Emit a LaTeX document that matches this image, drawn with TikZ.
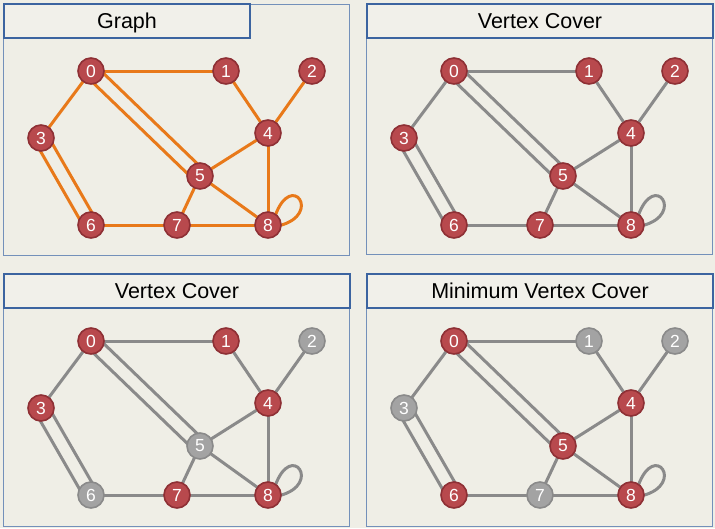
\documentclass[tikz,border=0pt]{standalone}
\usepackage{fontspec}
\setmainfont{Liberation Sans}
\usetikzlibrary{calc}

\definecolor{paper}{HTML}{EFEEE6}
\definecolor{titlefill}{HTML}{F1F0EA}
\definecolor{titleblue}{HTML}{3C64A0}
\definecolor{frameblue}{HTML}{7390BA}
\definecolor{vxred}{HTML}{B8494D}
\definecolor{vxredrim}{HTML}{8E3035}
\definecolor{vxgray}{HTML}{A3A3A3}
\definecolor{vxgrayrim}{HTML}{8A8A8A}
\definecolor{lineorange}{HTML}{E8791A}
\definecolor{linegray}{HTML}{8A8A8A}

\pgfdeclarelayer{paperlayer}
\pgfdeclarelayer{linklayer}
\pgfsetlayers{paperlayer,linklayer,main}

\begin{document}
\begin{tikzpicture}
		[x=1pt, y=-1pt,
		vertex/.style={circle, inner sep=0pt, minimum size=26pt, line width=1.6pt, text=white, font=\fontsize{17.5}{17.5}\selectfont},
		rv/.style={vertex, fill=vxred, draw=vxredrim},
		gv/.style={vertex, fill=vxgray, draw=vxgrayrim},
		panelbox/.style={draw=frameblue, line width=1pt},
		titlebox/.style={draw=titleblue, line width=2pt, fill=titlefill, anchor=north west, minimum height=34pt, inner sep=0pt, text height=15.5pt, text depth=0pt, font=\fontsize{21.5}{24}\selectfont},
		link/.style={line width=3pt, shorten <=-2pt, shorten >=-2pt}]
		\begin{pgfonlayer}{paperlayer}
			\fill[paper] (0,0) rectangle (715,528);
		\end{pgfonlayer}
		
		% Graph
		\begin{scope}[shift={(0,0)}]
			\draw[panelbox] (3,4) rectangle (349,255);
			\node[titlebox, minimum width=246pt] (atitle) at (3,3) {Graph};
			\foreach \i/\x/\y/\s in {0/91/71/rv, 1/226/71/rv, 2/312/71/rv, 3/41/138/rv, 4/268/133/rv, 5/200/176/rv, 6/91/225/rv, 7/177/225/rv, 8/268/225/rv}
				\node[\s] (a\i) at (\x,\y) {\i};
		\end{scope}
		
		% Vertex Cover
		\begin{scope}[shift={(363,0)}]
			\draw[panelbox] (3,4) rectangle (349,254);
			\node[titlebox, minimum width=346pt] (btitle) at (3,3) {Vertex Cover};
			\foreach \i/\x/\y/\s in {0/91/71/rv, 1/226/71/rv, 2/312/71/rv, 3/41/138/rv, 4/268/133/rv, 5/200/176/rv, 6/91/225/rv, 7/177/225/rv, 8/268/225/rv}
				\node[\s] (b\i) at (\x,\y) {\i};
		\end{scope}
		
		% Vertex Cover
		\begin{scope}[shift={(0,270)}]
			\draw[panelbox] (3,3) rectangle (349,256);
			\node[titlebox, minimum width=346pt] (ctitle) at (3,3) {Vertex Cover};
			\foreach \i/\x/\y/\s in {0/91/71/rv, 1/226/71/rv, 2/312/71/gv, 3/41/138/rv, 4/268/133/rv, 5/200/176/gv, 6/91/225/gv, 7/177/225/rv, 8/268/225/rv}
				\node[\s] (c\i) at (\x,\y) {\i};
		\end{scope}
		
		% Minimum Vertex Cover
		\begin{scope}[shift={(363,270)}]
			\draw[panelbox] (3,3) rectangle (349,256);
			\node[titlebox, minimum width=346pt] (dtitle) at (3,3) {Minimum Vertex Cover};
			\foreach \i/\x/\y/\s in {0/91/71/rv, 1/226/71/gv, 2/312/71/gv, 3/41/138/gv, 4/268/133/rv, 5/200/176/rv, 6/91/225/rv, 7/177/225/gv, 8/268/225/rv}
				\node[\s] (d\i) at (\x,\y) {\i};
		\end{scope}
		
		% edges, under the vertices
		\begin{pgfonlayer}{linklayer}
			\foreach \p/\col in {a/lineorange, b/linegray, c/linegray, d/linegray}{
				\foreach \u/\v in {0/1, 0/3, 1/4, 2/4, 4/5, 4/8, 5/7, 5/8, 6/7, 7/8}
					\draw[link, draw=\col] (\p\u) -- (\p\v);
				\draw[link, draw=\col, shorten <=-4pt, shorten >=-4pt, transform canvas={shift={(46:7pt)}}] (\p0) -- (\p5);
				\draw[link, draw=\col, shorten <=-4pt, shorten >=-4pt, transform canvas={shift={(226:7pt)}}] (\p0) -- (\p5);
				\draw[link, draw=\col, shorten <=-4pt, shorten >=-4pt, transform canvas={shift={(30:7pt)}}] (\p3) -- (\p6);
				\draw[link, draw=\col, shorten <=-4pt, shorten >=-4pt, transform canvas={shift={(210:7pt)}}] (\p3) -- (\p6);
				\draw[link, draw=\col] (\p8.55) .. controls +(70:46pt) and +(15:42pt) .. (\p8.east);
			}
		\end{pgfonlayer}
\end{tikzpicture}
\end{document}
